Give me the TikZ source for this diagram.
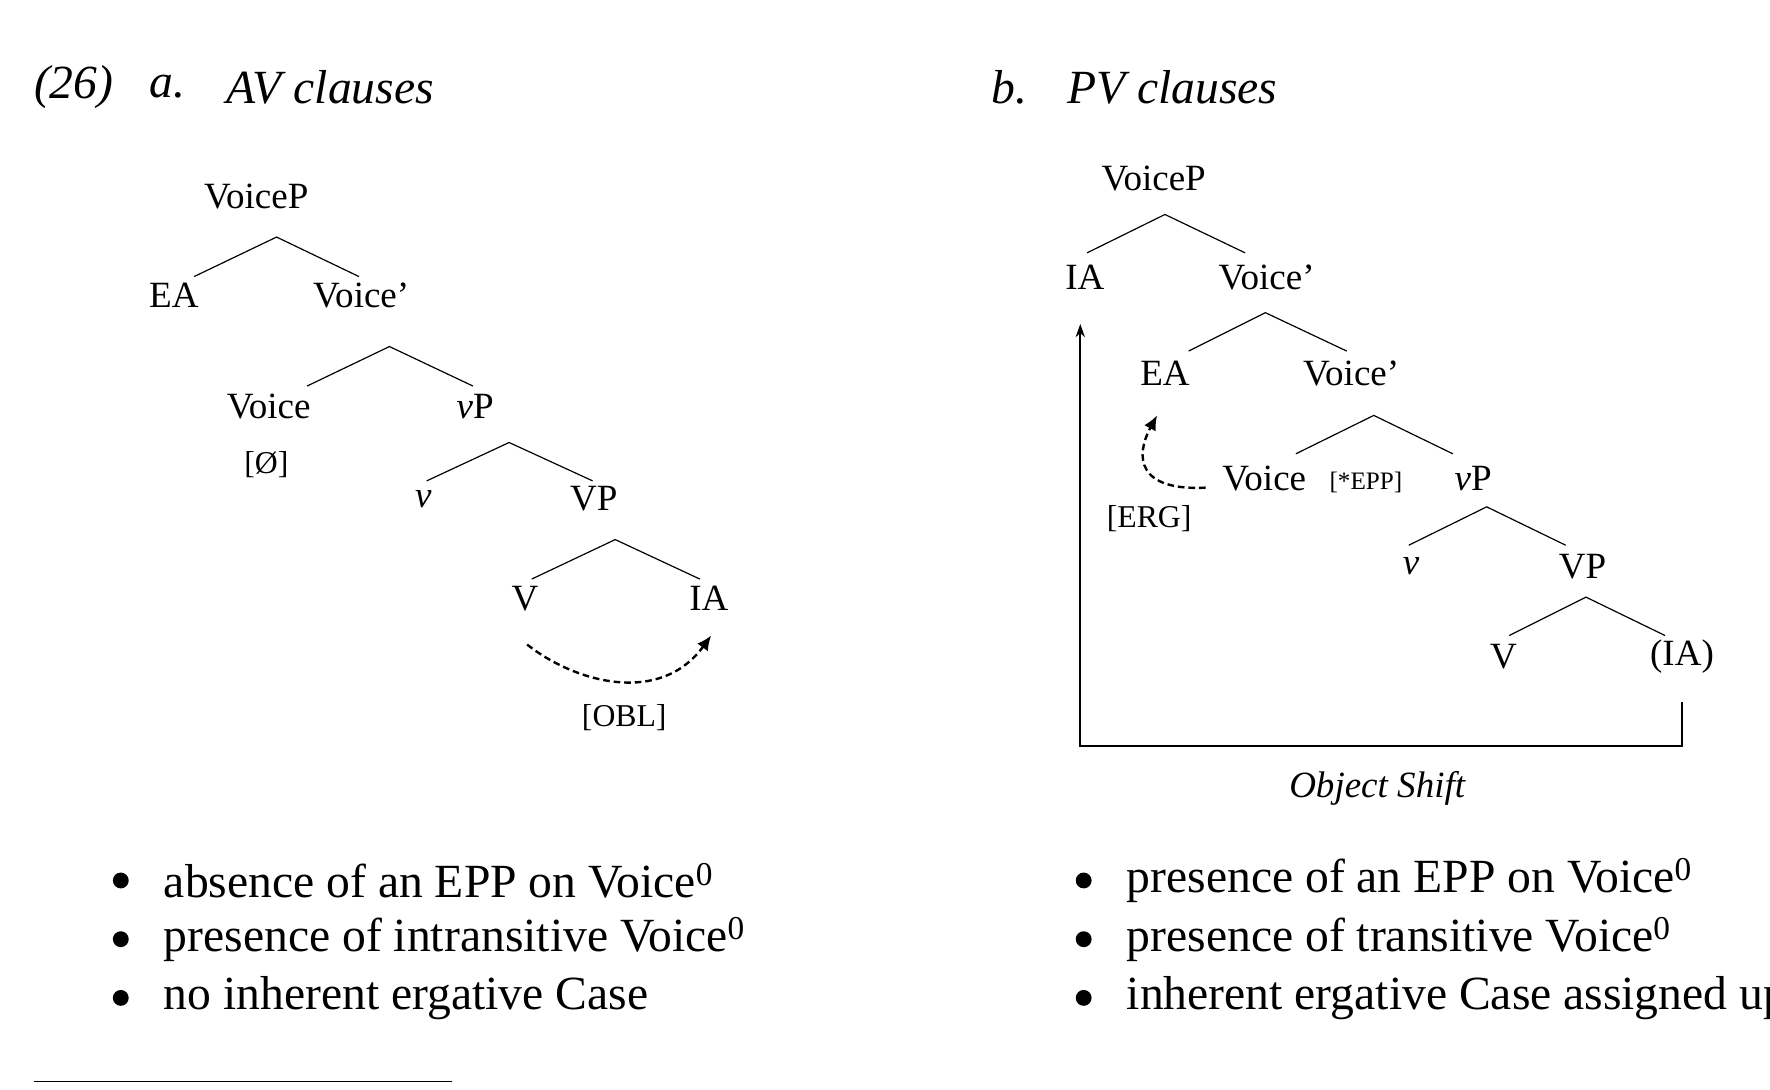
\documentclass[tikz,border=0pt]{standalone}
\usepackage{fontspec}
\setmainfont{Liberation Serif}
\usetikzlibrary{arrows.meta}
\tikzset{
  lab/.style={inner sep=0pt, font=\fontsize{28}{30}\selectfont},
  feat/.style={inner sep=0pt, font=\fontsize{24}{26}\selectfont},
  big/.style={inner sep=0pt, anchor=west, font=\fontsize{36}{38}\selectfont},
  dot/.style={circle, fill=black, inner sep=0pt, minimum size=12pt},
  br/.style={line width=0.9pt},
  mv/.style={dash pattern=on 5pt off 3pt, line width=1.8pt, -{Latex[length=11pt,width=10pt]}}
}
\begin{document}
\begin{tikzpicture}[x=0.03cm, y=-0.03cm]
  \useasboundingbox (0,0) rectangle (1568,965);
  \clip (0,0) rectangle (1568,965);
  % headings
  \node[big] (num) at (30,77) {\itshape (26)};
  \node[big] (ha) at (132,77) {\itshape a.};
  \node[big] (hat) at (200,77) {\itshape AV clauses};
  \node[big] (hb) at (878,77) {\itshape b.};
  \node[big] (hbt) at (945,77) {\itshape PV clauses};

  % tree a
  \node[lab] (aVP) at (227,174) {VoiceP};
  \node[lab] (aEA) at (154,262) {EA};
  \node[lab] (aVb) at (320,262) {Voice'};
  \node[lab] (aV) at (238,360) {Voice};
  \node[lab] (avP) at (421,360) {\textit{v}P};
  \node[feat] (aO) at (236,412) {[Ø]};
  \node[lab] (av) at (375,442) {\textit{v}};
  \node[lab] (aVPP) at (526,442) {VP};
  \node[lab] (aVV) at (465,530) {V};
  \node[lab] (aIA) at (628,530) {IA};
  \node[feat] (aOBL) at (553,636) {[OBL]};
  \coordinate (a1) at (245,210); \coordinate (a1l) at (172,245); \coordinate (a1r) at (318,245);
  \coordinate (a2) at (345,307); \coordinate (a2l) at (272,342); \coordinate (a2r) at (419,342);
  \coordinate (a3) at (451,392); \coordinate (a3l) at (378,426); \coordinate (a3r) at (525,426);
  \coordinate (a4) at (545,478); \coordinate (a4l) at (471,513); \coordinate (a4r) at (620,513);
  \draw[br] (a1l) -- (a1) -- (a1r);
  \draw[br] (a2l) -- (a2) -- (a2r);
  \draw[br] (a3l) -- (a3) -- (a3r);
  \draw[br] (a4l) -- (a4) -- (a4r);
  \coordinate (aS) at (467,571); \coordinate (aE) at (630,563);
  \draw[mv] (aS) .. controls (510,605) and (585,625) .. (aE);

  % tree b
  \node[lab] (bVP) at (1022,158) {VoiceP};
  \node[lab] (bIA) at (961,246) {IA};
  \node[lab] (bVb) at (1122,246) {Voice'};
  \node[lab] (bEA) at (1032,331) {EA};
  \node[lab] (bVb2) at (1197,331) {Voice'};
  \node[lab] (bV) at (1120,424) {Voice};
  \node[feat, font=\fontsize{19}{21}\selectfont] (bEPP) at (1210,427) {[*EPP]};
  \node[lab] (bvP) at (1305,424) {\textit{v}P};
  \node[feat] (bERG) at (1018,459) {[ERG]};
  \node[lab] (bv) at (1250,502) {\textit{v}};
  \node[lab] (bVPP) at (1402,502) {VP};
  \node[lab] (bVV) at (1332,582) {V};
  \node[lab] (bIAc) at (1490,582) {(IA)};
  \coordinate (b1) at (1032,190); \coordinate (b1l) at (963,224); \coordinate (b1r) at (1103,224);
  \coordinate (b2) at (1121,277); \coordinate (b2l) at (1053,311); \coordinate (b2r) at (1193,311);
  \coordinate (b3) at (1217,368); \coordinate (b3l) at (1148,402); \coordinate (b3r) at (1287,402);
  \coordinate (b4) at (1317,449); \coordinate (b4l) at (1248,483); \coordinate (b4r) at (1387,483);
  \coordinate (b5) at (1405,529); \coordinate (b5l) at (1337,563); \coordinate (b5r) at (1475,563);
  \draw[br] (b1l) -- (b1) -- (b1r);
  \draw[br] (b2l) -- (b2) -- (b2r);
  \draw[br] (b3l) -- (b3) -- (b3r);
  \draw[br] (b4l) -- (b4) -- (b4r);
  \draw[br] (b5l) -- (b5) -- (b5r);
  \coordinate (bS) at (1068,432); \coordinate (bE) at (1025,368);
  \draw[mv] (bS) .. controls (1008,435) and (1005,405) .. (bE);
  \coordinate (os1) at (1490,622); \coordinate (os2) at (1490,661);
  \coordinate (os3) at (957,661); \coordinate (os4) at (957,287);
  \draw[line width=1.3pt, -{Stealth[length=10pt,width=7pt]}] (os1) -- (os2) -- (os3) -- (os4);
  \node[lab] (osl) at (1220,698) {\itshape Object Shift};

  % bullets
  \foreach \y/\t [count=\i] in {780/absence of an EPP on Voice\textsuperscript{0},
      832/presence of intransitive Voice\textsuperscript{0},
      884/no inherent ergative Case} {
    \node[dot] (da\i) at (107,\y) {};
    \node[big] (la\i) at (145,\y) {\t};
  }
  \foreach \y/\t [count=\i] in {780/presence of an EPP on Voice\textsuperscript{0},
      832/presence of transitive Voice\textsuperscript{0},
      884/inherent ergative Case assigned upon} {
    \node[dot] (db\i) at (960,\y) {};
    \node[big] (lb\i) at (998,\y) {\t};
  }
  \coordinate (fn1) at (30,958); \coordinate (fn2) at (400,958);
  \draw[line width=0.8pt] (fn1) -- (fn2);
\end{tikzpicture}
\end{document}
